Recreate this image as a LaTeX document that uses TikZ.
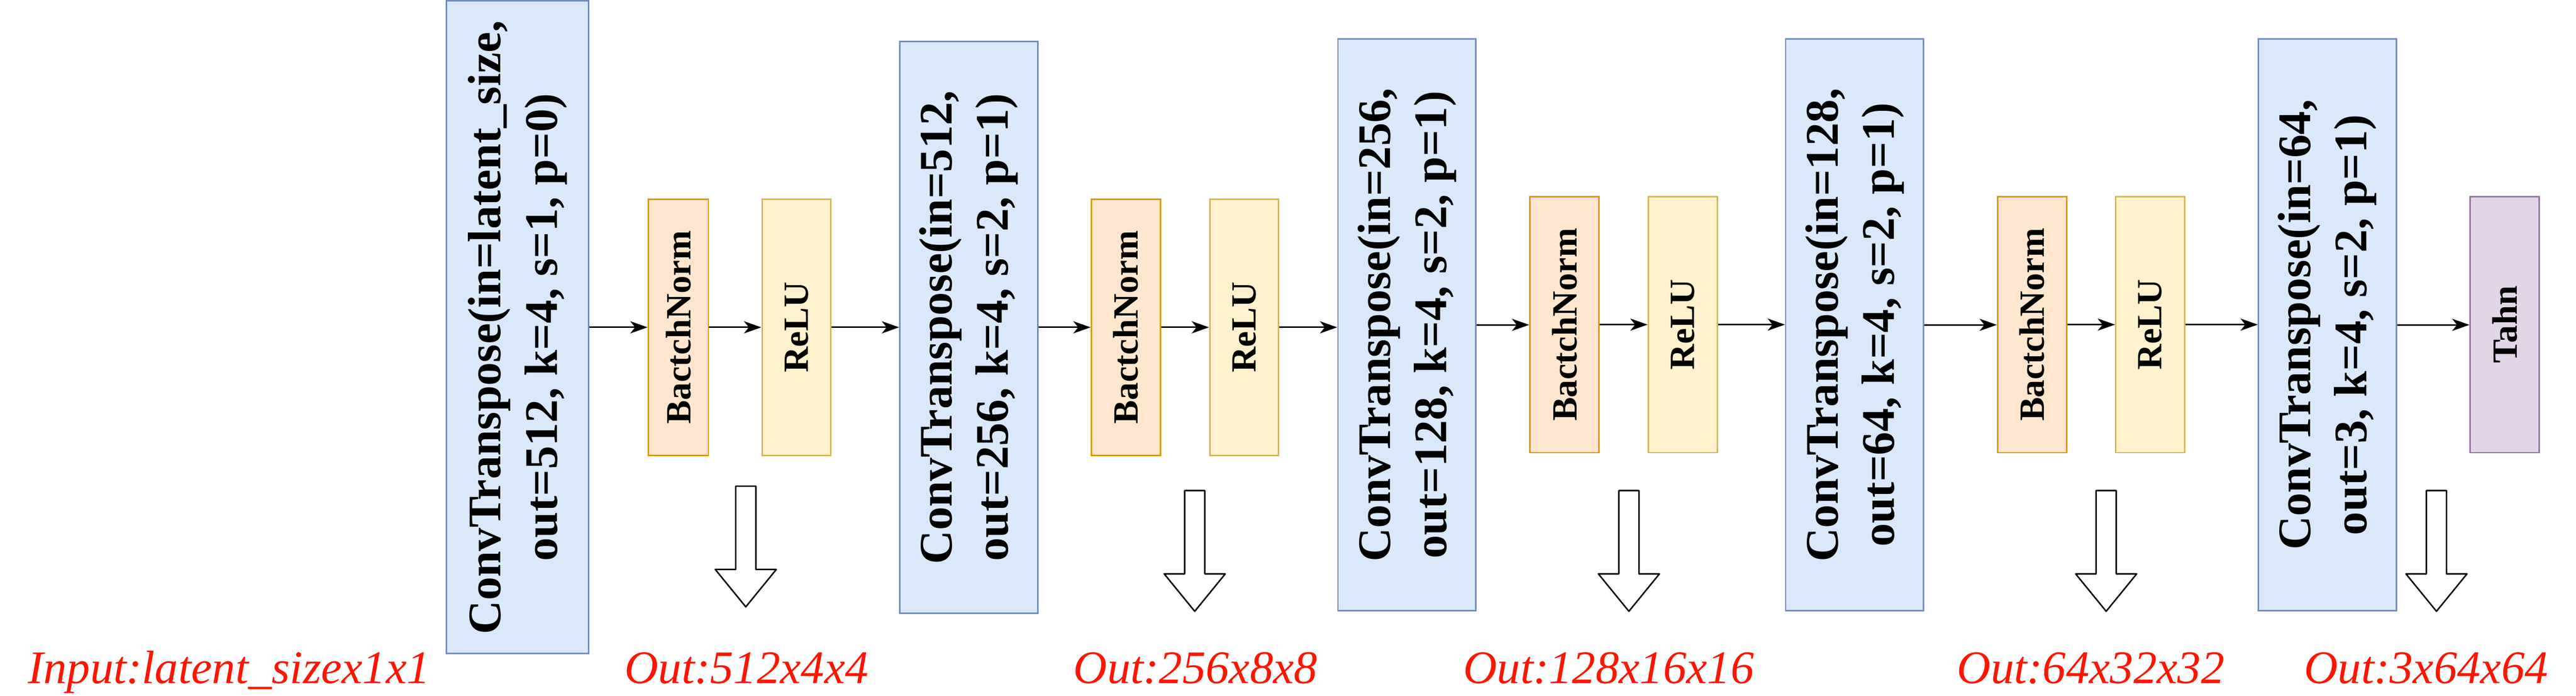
\documentclass[tikz,border=0pt]{standalone}
\usepackage{fontspec}
\setmainfont{Liberation Serif}
\usetikzlibrary{arrows.meta}

\definecolor{convfill}{HTML}{DAE8FC}
\definecolor{convline}{HTML}{6C8EBF}
\definecolor{bnfill}{HTML}{FFE6CC}
\definecolor{bnline}{HTML}{D79B00}
\definecolor{relufill}{HTML}{FFF2CC}
\definecolor{reluline}{HTML}{D6B656}
\definecolor{tanhfill}{HTML}{E1D5E7}
\definecolor{tanhline}{HTML}{9673A6}
\definecolor{outred}{HTML}{FF1400}

\newcommand{\vlabel}[1]{\rotatebox{90}{\begin{tabular}{@{}c@{}}#1\end{tabular}}}

\begin{document}
\begin{tikzpicture}[
        conv/.style={draw=convline, fill=convfill, line width=0.85pt, inner sep=0pt, minimum width=2.8cm, minimum height=11.61cm, font=\bfseries\fontsize{27}{32.5}\selectfont},
        bnorm/.style={draw=bnline, fill=bnfill, line width=0.85pt, inner sep=0pt, minimum width=1.4cm, minimum height=5.2cm, font=\bfseries\fontsize{20.5}{24}\selectfont},
        relu/.style={bnorm, draw=reluline, fill=relufill},
        tanhbox/.style={bnorm, draw=tanhline, fill=tanhfill},
        flow/.style={-{Stealth[length=10pt, width=7pt, inset=2.8pt]}, line width=0.85pt},
        hollow/.style={draw, fill=white, line width=0.85pt, line join=round},
        outlabel/.style={text=outred, inner sep=0pt, anchor=base west, font=\itshape\fontsize{27}{32}\selectfont}
    ]
        \useasboundingbox (0,0) rectangle (52.33,14.12);

        % Vẽ các khối
        \node[conv, minimum width=2.89cm, minimum height=13.25cm] (conv1) at (10.515,7.475) {\vlabel{ConvTranspose(in=latent\_size,\\out=512, k=4, s=1, p=0)}};
        \node[bnorm, minimum width=1.22cm] (bn1) at (13.78,7.475) {\rotatebox{90}{BactchNorm}};
        \node[relu] (relu1) at (16.18,7.475) {\rotatebox{90}{ReLU}};
        \node[conv] (conv2) at (19.68,7.475) {\vlabel{ConvTranspose(in=512,\\out=256, k=4, s=2, p=1)}};
        \node[bnorm] (bn2) at (22.87,7.475) {\rotatebox{90}{BactchNorm}};
        \node[relu] (relu2) at (25.275,7.475) {\rotatebox{90}{ReLU}};
        \node[conv] (conv3) at (28.58,7.525) {\vlabel{ConvTranspose(in=256,\\out=128, k=4, s=2, p=1)}};
        \node[bnorm] (bn3) at (31.78,7.53) {\rotatebox{90}{BactchNorm}};
        \node[relu] (relu3) at (34.185,7.53) {\rotatebox{90}{ReLU}};
        \node[conv] (conv4) at (37.675,7.525) {\vlabel{ConvTranspose(in=128,\\out=64, k=4, s=2, p=1)}};
        \node[bnorm] (bn4) at (41.28,7.53) {\rotatebox{90}{BactchNorm}};
        \node[relu] (relu4) at (43.68,7.53) {\rotatebox{90}{ReLU}};
        \node[conv] (conv5) at (47.28,7.525) {\vlabel{ConvTranspose(in=64,\\out=3, k=4, s=2, p=1)}};
        \node[tanhbox] (tahn) at (50.88,7.53) {\rotatebox{90}{Tahn}};

        % Các mũi tên nối
        \foreach \a/\b in {conv1/bn1, bn1/relu1, relu1/conv2, conv2/bn2, bn2/relu2, relu2/conv3, conv3/bn3, bn3/relu3, relu3/conv4, conv4/bn4, bn4/relu4, relu4/conv5, conv5/tahn}
            \draw[flow] (\a.east) -- (\a.east -| \b.west);

        % Mũi tên rỗng
        \foreach \x/\y in {15.15/1.80, 24.27/1.71, 33.09/1.71, 42.785/1.71, 49.495/1.71}
            \draw[hollow] (\x,\y) -- ++(0.62,0.76) -- ++(-0.415,0) -- ++(0,1.69) -- ++(-0.41,0) -- ++(0,-1.69) -- ++(-0.415,0) -- cycle;

        % Kích thước đầu ra
        \node[outlabel] (input) at (0.56,0.25) {Input:latent\_sizex1x1};
        \node[outlabel] (out1) at (12.68,0.25) {Out:512x4x4};
        \node[outlabel] (out2) at (21.80,0.25) {Out:256x8x8};
        \node[outlabel] (out3) at (29.72,0.25) {Out:128x16x16};
        \node[outlabel] (out4) at (39.75,0.25) {Out:64x32x32};
        \node[outlabel] (out5) at (46.80,0.25) {Out:3x64x64};
    \end{tikzpicture}
\end{document}
